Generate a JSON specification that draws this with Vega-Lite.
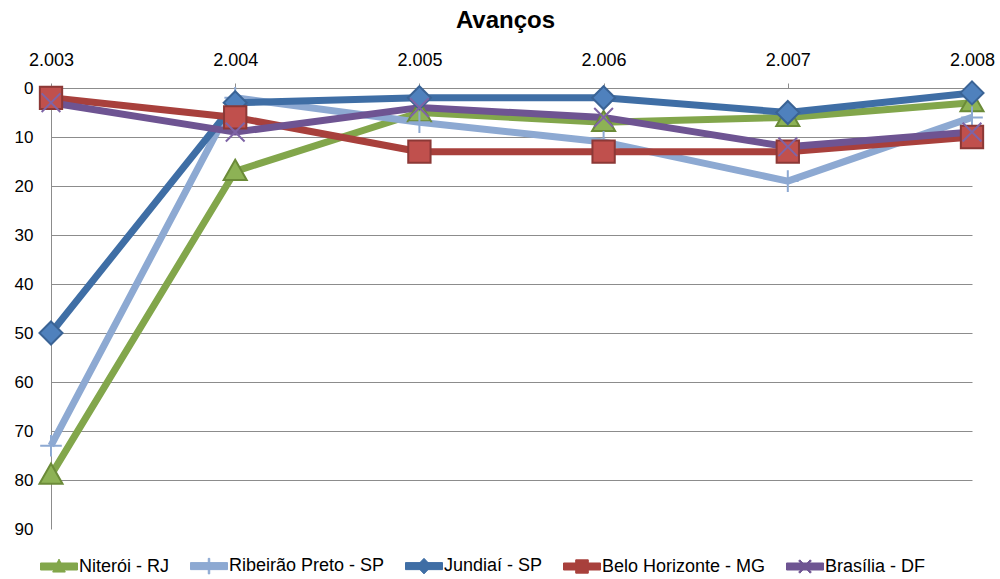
{
  "$schema": "https://vega.github.io/schema/vega-lite/v6.json",
  "autosize": "none",
  "width": 921,
  "height": 441,
  "padding": {"left": 51, "top": 88, "right": 28, "bottom": 50},
  "background": "white",
  "title": {"text": "Avanços", "font": "Liberation Sans", "fontSize": 24, "fontWeight": "bold", "color": "#000000", "anchor": "middle", "dx": -6, "offset": 18},
  "config": {
    "view": {"stroke": null},
    "font": "Liberation Sans",
    "legend": {"padding": 0}
  },
  "data": {"values": [
    {"ano": 2003, "serie": "Niterói - RJ", "valor": 79},
    {"ano": 2004, "serie": "Niterói - RJ", "valor": 17},
    {"ano": 2005, "serie": "Niterói - RJ", "valor": 5},
    {"ano": 2006, "serie": "Niterói - RJ", "valor": 7},
    {"ano": 2007, "serie": "Niterói - RJ", "valor": 6},
    {"ano": 2008, "serie": "Niterói - RJ", "valor": 3},
    {"ano": 2003, "serie": "Ribeirão Preto - SP", "valor": 73},
    {"ano": 2004, "serie": "Ribeirão Preto - SP", "valor": 2},
    {"ano": 2005, "serie": "Ribeirão Preto - SP", "valor": 7},
    {"ano": 2006, "serie": "Ribeirão Preto - SP", "valor": 11},
    {"ano": 2007, "serie": "Ribeirão Preto - SP", "valor": 19},
    {"ano": 2008, "serie": "Ribeirão Preto - SP", "valor": 6},
    {"ano": 2003, "serie": "Jundiaí - SP", "valor": 50},
    {"ano": 2004, "serie": "Jundiaí - SP", "valor": 3},
    {"ano": 2005, "serie": "Jundiaí - SP", "valor": 2},
    {"ano": 2006, "serie": "Jundiaí - SP", "valor": 2},
    {"ano": 2007, "serie": "Jundiaí - SP", "valor": 5},
    {"ano": 2008, "serie": "Jundiaí - SP", "valor": 1},
    {"ano": 2003, "serie": "Belo Horizonte - MG", "valor": 2},
    {"ano": 2004, "serie": "Belo Horizonte - MG", "valor": 6},
    {"ano": 2005, "serie": "Belo Horizonte - MG", "valor": 13},
    {"ano": 2006, "serie": "Belo Horizonte - MG", "valor": 13},
    {"ano": 2007, "serie": "Belo Horizonte - MG", "valor": 13},
    {"ano": 2008, "serie": "Belo Horizonte - MG", "valor": 10},
    {"ano": 2003, "serie": "Brasília - DF", "valor": 3},
    {"ano": 2004, "serie": "Brasília - DF", "valor": 9},
    {"ano": 2005, "serie": "Brasília - DF", "valor": 4},
    {"ano": 2006, "serie": "Brasília - DF", "valor": 6},
    {"ano": 2007, "serie": "Brasília - DF", "valor": 12},
    {"ano": 2008, "serie": "Brasília - DF", "valor": 9}
  ]},
  "encoding": {
    "x": {
      "field": "ano", "type": "ordinal", "title": null,
      "scale": {"type": "point", "padding": 0},
      "axis": {
        "orient": "top", "labelAngle": 0,
        "labelExpr": "slice(datum.label,0,1) + '.' + slice(datum.label,1)",
        "labelFont": "Liberation Sans", "labelFontSize": 18, "labelColor": "#000000",
        "labelPadding": 14, "domainColor": "#8C8C8C", "domainWidth": 1,
        "tickColor": "#8C8C8C", "tickSize": 5, "grid": false
      }
    },
    "y": {
      "field": "valor", "type": "quantitative", "title": null,
      "scale": {"domain": [0, 90], "reverse": true, "nice": false, "zero": true},
      "axis": {
        "values": [0, 10, 20, 30, 40, 50, 60, 70, 80, 90],
        "labelFont": "Liberation Sans", "labelFontSize": 17, "labelColor": "#000000",
        "labelPadding": 18, "ticks": false,
        "domainColor": "#8C8C8C", "domainWidth": 1,
        "grid": true, "gridColor": "#8C8C8C", "gridWidth": 1,
        "gridOpacity": {"condition": {"test": "datum.value === 90 || datum.value === 0", "value": 0}, "value": 1}
      }
    }
  },
  "layer": [
    {
      "mark": {"type": "line", "strokeWidth": 7, "strokeJoin": "round"},
      "encoding": {
        "color": {
          "field": "serie", "type": "nominal",
          "scale": {
            "domain": ["Niterói - RJ", "Ribeirão Preto - SP", "Jundiaí - SP", "Belo Horizonte - MG", "Brasília - DF"],
            "range": ["#82A64B", "#8DA9D2", "#3F6EA5", "#A8403C", "#6E5492"]
          },
          "legend": {
            "title": null, "orient": "none", "legendX": -11, "legendY": 459,
            "direction": "horizontal", "columns": 5,
            "symbolSize": 1369, "columnPadding": 18,
            "labelOffset": 1, "labelFont": "Liberation Sans", "labelFontSize": 18,
            "labelColor": "#000000", "labelLimit": 400,
            "encode": {
              "symbols": {
                "update": {
                  "shape": {"signal": "datum.value === 'Niterói - RJ' ? 'M0,-0.4L0.34,0.3L-0.34,0.3ZM-1,-0.19L1,-0.19L1,0.19L-1,0.19Z' : datum.value === 'Ribeirão Preto - SP' ? 'M-0.04,-0.42L0.04,-0.42L0.04,0.42L-0.04,0.42ZM-1,-0.19L1,-0.19L1,0.19L-1,0.19Z' : datum.value === 'Jundiaí - SP' ? 'M0,-0.42L0.4,0L0,0.42L-0.4,0ZM-1,-0.19L1,-0.19L1,0.19L-1,0.19Z' : datum.value === 'Belo Horizonte - MG' ? 'M-0.34,-0.36L0.34,-0.36L0.34,0.36L-0.34,0.36ZM-1,-0.19L1,-0.19L1,0.19L-1,0.19Z' : 'M-0.34,-0.3L-0.28,-0.36L0.34,0.3L0.28,0.36ZM0.28,-0.36L0.34,-0.3L-0.28,0.36L-0.34,0.3ZM-1,-0.19L1,-0.19L1,0.19L-1,0.19Z'"},
                  "fill": {"scale": "color", "field": "value"},
                  "stroke": {"scale": "color", "field": "value"},
                  "strokeWidth": {"value": 1},
                  "opacity": {"value": 1}
                }
              }
            }
          }
        }
      }
    },
    {
      "mark": {"type": "point", "filled": true, "opacity": 1, "size": 5184, "strokeWidth": 2},
      "encoding": {
        "shape": {
          "field": "serie", "type": "nominal", "legend": null,
          "sort": ["Niterói - RJ", "Ribeirão Preto - SP", "Jundiaí - SP", "Belo Horizonte - MG", "Brasília - DF"],
          "scale": {
            "range": [
              "M0,-0.32L0.32,0.24L-0.32,0.24Z",
              "M-0.3,0L0.3,0M0,-0.3L0,0.3",
              "M0,-0.32L0.32,0L0,0.32L-0.32,0Z",
              "M-0.31,-0.31L0.31,-0.31L0.31,0.31L-0.31,0.31Z",
              "M-0.26,-0.26L0.26,0.26M-0.26,0.26L0.26,-0.26"
            ]
          }
        },
        "fill": {
          "field": "serie", "type": "nominal", "legend": null,
          "sort": ["Niterói - RJ", "Ribeirão Preto - SP", "Jundiaí - SP", "Belo Horizonte - MG", "Brasília - DF"],
          "scale": {"range": ["#8DB255", "#8DA9D2", "#4F81BD", "#C0504D", "#8064A2"]}
        },
        "stroke": {
          "field": "serie", "type": "nominal", "legend": null,
          "sort": ["Niterói - RJ", "Ribeirão Preto - SP", "Jundiaí - SP", "Belo Horizonte - MG", "Brasília - DF"],
          "scale": {"range": ["#6B8B38", "#8DA9D2", "#3A6395", "#8C3836", "#7E64A6"]}
        }
      }
    }
  ]
}
